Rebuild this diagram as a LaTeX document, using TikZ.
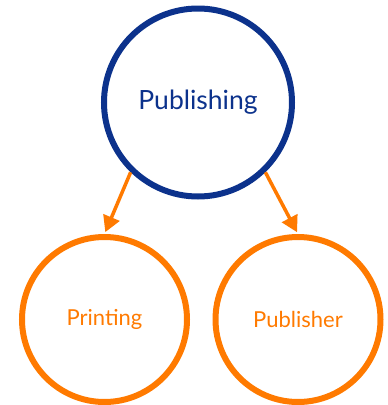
\documentclass[tikz,border=0pt]{standalone}
\usepackage{fontspec}
\setmainfont{Lato}
\usetikzlibrary{arrows.meta}
\definecolor{navy}{RGB}{12,50,140}
\definecolor{orng}{RGB}{255,122,0}
\tikzset{
  bigc/.style={circle,draw=navy,line width=6pt,minimum size=188pt,inner sep=0pt,text=navy,font=\fontsize{26.5}{31}\selectfont},
  smallc/.style={circle,draw=orng,line width=6pt,minimum size=165pt,inner sep=0pt,text=orng,font=\fontsize{22}{26}\selectfont},
  conn/.style={draw=orng,line width=3.5pt,-{Triangle[length=16pt,width=17pt]},shorten >=2pt}
}
\begin{document}
\begin{tikzpicture}[x=1pt,y=-1pt]
\useasboundingbox (0,0) rectangle (388,405);
\node[bigc] (pub) at (198,102.5) {Publishing};
\node[smallc] (print) at (104.5,319.5) {Printing};
\node[smallc] (publ) at (298,319.5) {Publisher};
\draw[conn] (pub.-134) -- (print.north);
\draw[conn] (pub.-46) -- (publ.north);
\end{tikzpicture}
\end{document}
